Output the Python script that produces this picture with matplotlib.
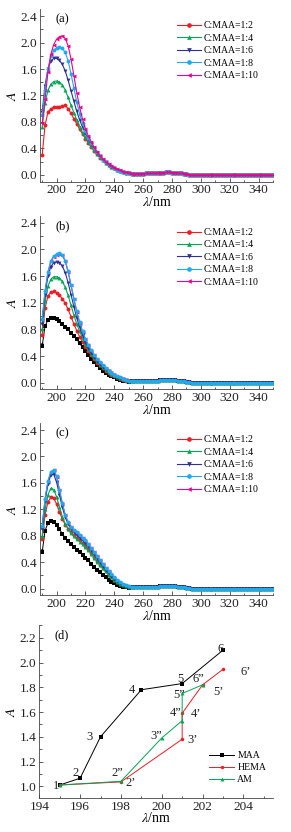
import matplotlib
matplotlib.use("Agg")
import matplotlib.pyplot as plt
import numpy as np
from matplotlib.ticker import MultipleLocator

plt.rcParams['font.family'] = ['Liberation Serif', 'DejaVu Serif']
plt.rcParams['mathtext.fontset'] = 'stix'

# wavelength grid (nm), every 2 nm
lam = np.arange(190, 351, 2)

# shared flat tail, 252..350 nm
tail = [0.02, 0.02, 0.02, 0.02, 0.02, 0.025, 0.025, 0.025, 0.03, 0.03,
        0.035, 0.035, 0.04, 0.04, 0.035, 0.035, 0.03, 0.025, 0.02, 0.01,
        0.005] + [0.0] * 29

# panel (a), 190..250 nm
a_12 = [0.30, 0.75, 0.95, 1.00, 1.02, 1.03, 1.03, 1.04, 1.05, 1.00, 0.93, 0.85, 0.77, 0.69, 0.62, 0.55,
        0.48, 0.42, 0.36, 0.31, 0.26, 0.22, 0.18, 0.15, 0.12, 0.10, 0.08, 0.06, 0.045, 0.035, 0.025]
a_14 = [0.72, 1.08, 1.28, 1.37, 1.41, 1.42, 1.40, 1.36, 1.28, 1.17, 1.05, 0.94, 0.83, 0.73, 0.64, 0.57,
        0.50, 0.44, 0.38, 0.32, 0.27, 0.22, 0.18, 0.15, 0.12, 0.10, 0.08, 0.06, 0.045, 0.035, 0.025]
a_16 = [0.95, 1.35, 1.60, 1.72, 1.76, 1.76, 1.73, 1.67, 1.57, 1.43, 1.27, 1.11, 0.96, 0.83, 0.72, 0.63,
        0.54, 0.47, 0.40, 0.33, 0.28, 0.23, 0.19, 0.155, 0.125, 0.10, 0.08, 0.06, 0.045, 0.035, 0.025]
a_18 = [0.90, 1.28, 1.60, 1.79, 1.88, 1.92, 1.93, 1.91, 1.85, 1.72, 1.53, 1.31, 1.10, 0.92, 0.78, 0.66,
        0.56, 0.48, 0.41, 0.34, 0.28, 0.23, 0.19, 0.16, 0.13, 0.10, 0.08, 0.065, 0.05, 0.035, 0.025]
a_110 = [0.78, 1.15, 1.55, 1.82, 1.97, 2.05, 2.09, 2.10, 2.06, 1.95, 1.75, 1.50, 1.24, 1.02, 0.84, 0.70,
         0.59, 0.50, 0.42, 0.35, 0.29, 0.24, 0.20, 0.16, 0.13, 0.11, 0.09, 0.07, 0.05, 0.04, 0.03]

# panel (b)
b_blk = [0.55, 0.85, 0.94, 0.97, 0.97, 0.95, 0.92, 0.88, 0.84, 0.80, 0.75, 0.70, 0.65, 0.59, 0.53, 0.47,
         0.41, 0.36, 0.31, 0.26, 0.22, 0.18, 0.15, 0.12, 0.10, 0.08, 0.06, 0.045, 0.03, 0.02, 0.015]
b_12 = [0.72, 1.12, 1.30, 1.36, 1.37, 1.35, 1.31, 1.26, 1.19, 1.10, 0.99, 0.88, 0.78, 0.69, 0.61, 0.54,
        0.47, 0.41, 0.35, 0.30, 0.26, 0.22, 0.18, 0.15, 0.12, 0.10, 0.08, 0.06, 0.045, 0.03, 0.02]
b_14 = [0.80, 1.22, 1.45, 1.55, 1.59, 1.59, 1.57, 1.52, 1.43, 1.31, 1.16, 1.01, 0.88, 0.77, 0.67, 0.58,
        0.50, 0.43, 0.37, 0.32, 0.27, 0.23, 0.19, 0.16, 0.13, 0.11, 0.085, 0.065, 0.05, 0.035, 0.025]
b_16 = [0.88, 1.32, 1.60, 1.74, 1.80, 1.81, 1.80, 1.75, 1.65, 1.50, 1.32, 1.14, 0.97, 0.83, 0.71, 0.61,
        0.52, 0.45, 0.39, 0.33, 0.28, 0.24, 0.20, 0.17, 0.14, 0.11, 0.09, 0.07, 0.05, 0.035, 0.025]
b_18 = [0.95, 1.38, 1.66, 1.83, 1.90, 1.93, 1.94, 1.92, 1.83, 1.67, 1.47, 1.26, 1.07, 0.91, 0.77, 0.66,
        0.57, 0.49, 0.42, 0.36, 0.31, 0.26, 0.22, 0.18, 0.15, 0.12, 0.10, 0.08, 0.06, 0.04, 0.03]
b_110 = [0.94, 1.37, 1.65, 1.82, 1.89, 1.92, 1.93, 1.91, 1.82, 1.66, 1.46, 1.25, 1.06, 0.90, 0.76, 0.65,
         0.56, 0.48, 0.41, 0.35, 0.30, 0.25, 0.21, 0.17, 0.14, 0.11, 0.09, 0.07, 0.05, 0.035, 0.025]

# panel (c)
c_blk = [0.55, 0.88, 0.99, 1.02, 1.01, 0.96, 0.90, 0.83, 0.77, 0.72, 0.67, 0.63, 0.59, 0.55, 0.51, 0.47,
         0.43, 0.38, 0.33, 0.29, 0.25, 0.21, 0.17, 0.13, 0.10, 0.08, 0.06, 0.04, 0.03, 0.02, 0.015]
c_12 = [0.75, 1.12, 1.31, 1.38, 1.37, 1.28, 1.16, 1.05, 0.97, 0.91, 0.86, 0.81, 0.77, 0.73, 0.69, 0.65,
        0.60, 0.54, 0.48, 0.42, 0.36, 0.31, 0.26, 0.21, 0.17, 0.13, 0.10, 0.07, 0.05, 0.035, 0.025]
c_14 = [0.80, 1.20, 1.42, 1.52, 1.50, 1.39, 1.23, 1.09, 0.98, 0.90, 0.84, 0.79, 0.75, 0.71, 0.67, 0.63,
        0.58, 0.53, 0.47, 0.41, 0.36, 0.31, 0.26, 0.21, 0.17, 0.13, 0.10, 0.07, 0.05, 0.035, 0.025]
c_16 = [0.90, 1.32, 1.58, 1.72, 1.73, 1.61, 1.42, 1.23, 1.08, 0.98, 0.91, 0.86, 0.81, 0.77, 0.73, 0.69,
        0.64, 0.58, 0.52, 0.46, 0.40, 0.34, 0.29, 0.24, 0.19, 0.15, 0.11, 0.08, 0.06, 0.04, 0.03]
c_18 = [0.95, 1.36, 1.63, 1.77, 1.80, 1.70, 1.50, 1.29, 1.12, 1.01, 0.94, 0.89, 0.85, 0.81, 0.77, 0.73,
        0.68, 0.62, 0.56, 0.50, 0.44, 0.38, 0.32, 0.27, 0.22, 0.17, 0.13, 0.10, 0.07, 0.05, 0.035]
c_110 = [0.94, 1.35, 1.62, 1.76, 1.79, 1.69, 1.49, 1.28, 1.11, 1.00, 0.93, 0.88, 0.84, 0.80, 0.76, 0.72,
         0.67, 0.61, 0.55, 0.49, 0.43, 0.37, 0.31, 0.26, 0.21, 0.16, 0.12, 0.09, 0.06, 0.045, 0.03]

labels = ['C:MAA=1:2', 'C:MAA=1:4', 'C:MAA=1:6', 'C:MAA=1:8', 'C:MAA=1:10']
colors = ['#ee1c25', '#00a651', '#2e3192', '#1eaaf1', '#ec008c']
markers = ['o', '^', 'v', 'o', '<']

# panel (d) peak positions
maa_x = [195, 196, 197, 199, 201, 203]
maa_y = [1.01, 1.065, 1.40, 1.78, 1.83, 2.10]
hema_x = [195, 198, 201, 201, 202, 203]
hema_y = [1.01, 1.035, 1.38, 1.59, 1.82, 1.945]
am_x = [195, 198, 200, 201, 201, 202]
am_y = [1.01, 1.04, 1.39, 1.53, 1.75, 1.82]
maa_tags = ['1', '2', '3', '4', '5', '6']
hema_tags = ['2’', '3’', '4’', '5’', '6’']
am_tags = ['2”', '3”', '4”', '5”', '6”']

W, H = 291, 832
fig = plt.figure(figsize=(W / 100, H / 100), dpi=100)


def px_axes(left, top, right, bottom):
    return fig.add_axes([left / W, 1 - bottom / H, (right - left) / W, (bottom - top) / H])


def style(ax):
    for s in ['top', 'right']:
        ax.spines[s].set_visible(False)
    for s in ['left', 'bottom']:
        ax.spines[s].set_linewidth(0.6)
        ax.spines[s].set_color('#444444')
    ax.tick_params(which='both', direction='in', labelsize=9.5, width=0.6, colors='#444444',
                   labelcolor='#222222', pad=2)
    ax.tick_params(which='major', length=3)
    ax.tick_params(which='minor', length=1.8)


def spectrum_panel(top, bottom, tag, series, black=None):
    ax = px_axes(40, top, 273, bottom)
    style(ax)
    if black is not None:
        ax.plot(lam, black + tail, color='black', marker='s', ms=2.4, lw=0.7, mew=0)
    order = [4, 0, 1, 2, 3] if black is not None else [0, 1, 2, 3, 4]
    handles = {}
    for i in order:
        h, = ax.plot(lam, series[i] + tail, color=colors[i], marker=markers[i], ms=2.8,
                     lw=0.8, mew=0, label=labels[i])
        handles[i] = h
    ax.set_xlim(188.5, 350)
    ax.set_ylim(-0.1, 2.5)
    ax.xaxis.set_major_locator(MultipleLocator(20))
    ax.xaxis.set_minor_locator(MultipleLocator(10))
    ax.yaxis.set_major_locator(MultipleLocator(0.4))
    ax.yaxis.set_minor_locator(MultipleLocator(0.2))
    ax.set_xlabel(r'$\lambda$/nm', fontsize=10, labelpad=-1)
    ax.set_ylabel(r'$A$', fontsize=10, labelpad=1)
    ax.text(0.065, 0.975, tag, transform=ax.transAxes, fontsize=9, ha='left', va='top')
    ax.legend([handles[i] for i in range(5)], labels, loc='upper left',
              bbox_to_anchor=(0.56, 0.97), frameon=False, fontsize=7, handlelength=2.4,
              handletextpad=0.3, labelspacing=0.35, borderpad=0.2, markerscale=1.2)
    return ax


spectrum_panel(9.4, 181.6, '(a)', [a_12, a_14, a_16, a_18, a_110])
spectrum_panel(216, 389.4, '(b)', [b_12, b_14, b_16, b_18, b_110], black=b_blk)
spectrum_panel(423.4, 595.3, '(c)', [c_12, c_14, c_16, c_18, c_110], black=c_blk)

# panel (d)
ax = px_axes(39.3, 625.4, 273, 798)
style(ax)
ax.plot(maa_x, maa_y, color='black', marker='s', ms=2.5, lw=0.7, mew=0, label='MAA')
ax.plot(hema_x, hema_y, color='#ee1c25', marker='o', ms=2.5, lw=0.7, mew=0, label='HEMA')
ax.plot(am_x, am_y, color='#00a651', marker='^', ms=2.8, lw=0.7, mew=0, label='AM')
ax.set_xlim(194, 205.45)
ax.set_ylim(0.905, 2.3)
ax.xaxis.set_major_locator(MultipleLocator(2))
ax.xaxis.set_minor_locator(MultipleLocator(1))
ax.yaxis.set_major_locator(MultipleLocator(0.2))
ax.yaxis.set_minor_locator(MultipleLocator(0.1))
ax.set_xlabel(r'$\lambda$/nm', fontsize=10, labelpad=-1)
ax.set_ylabel(r'$A$', fontsize=10, labelpad=1)
ax.text(0.065, 0.975, '(d)', transform=ax.transAxes, fontsize=9, ha='left', va='top')

maa_pos = [(194.82, 1.0), (195.8, 1.11), (196.48, 1.40), (198.56, 1.78), (200.9, 1.865), (202.86, 2.11)]
hema_pos = [(198.5, 1.03), (201.5, 1.37), (201.7, 1.58), (202.8, 1.76), (204.1, 1.92)]
am_pos = [(197.8, 1.11), (199.75, 1.41), (200.67, 1.59), (200.85, 1.735), (201.8, 1.865)]
for tags, pos in [(maa_tags, maa_pos), (hema_tags, hema_pos), (am_tags, am_pos)]:
    for t, (x, y) in zip(tags, pos):
        ax.text(x, y, t, fontsize=9, ha='center', va='center', color='#222222')

ax.legend(loc='lower right', bbox_to_anchor=(1.0, 0.04), frameon=False, fontsize=7,
          handlelength=2.6, handletextpad=0.3, labelspacing=0.3, borderpad=0.2)

fig.savefig('out.png', dpi=100)
